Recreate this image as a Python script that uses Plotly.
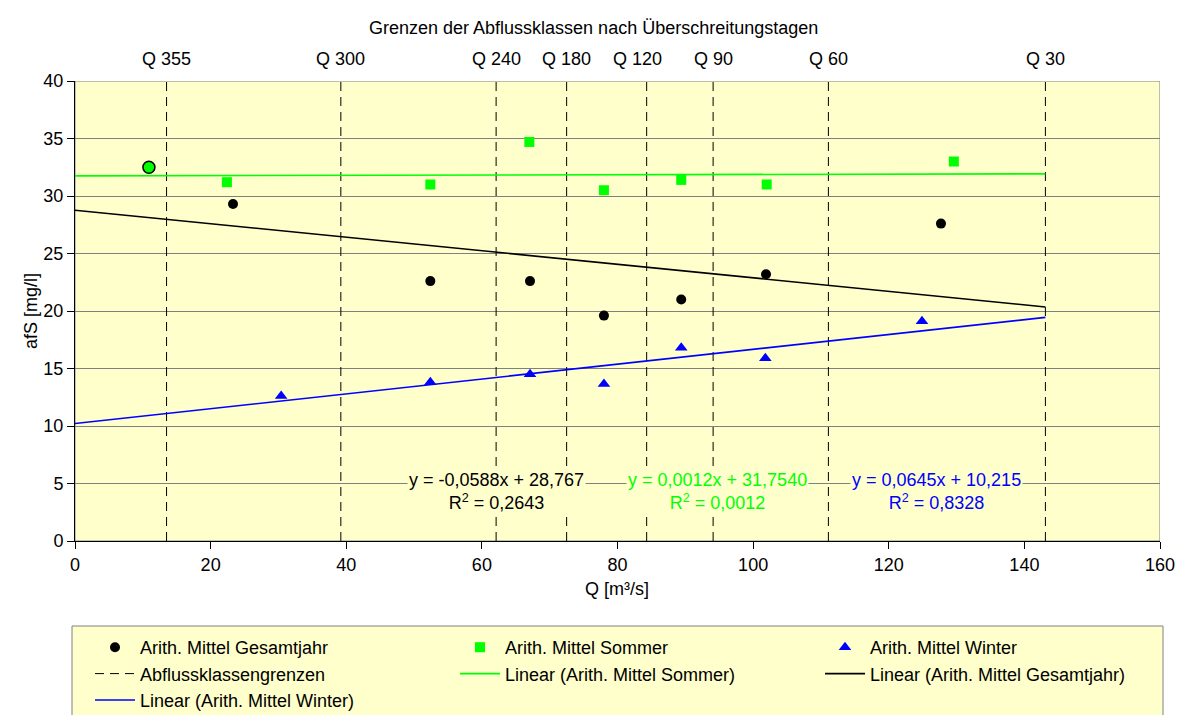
import plotly.graph_objects as go

# ---------------- data ----------------
ges_x = [10.9, 23.3, 52.4, 67.1, 78.0, 89.4, 101.9, 127.7]
ges_y = [32.5, 29.3, 22.6, 22.6, 19.6, 21.0, 23.2, 27.6]

som_x = [10.9, 22.4, 52.4, 67.0, 78.0, 89.4, 102.0, 129.6]
som_y = [32.5, 31.2, 31.0, 34.7, 30.5, 31.4, 31.0, 33.0]

win_x = [30.4, 52.4, 67.1, 78.0, 89.4, 101.8, 124.9]
win_y = [12.6, 13.8, 14.5, 13.65, 16.8, 15.9, 19.1]

grenz_x = [13.5, 39.2, 62.1, 72.5, 84.3, 94.1, 111.1, 143.1]
grenz_labels = ["Q 355", "Q 300", "Q 240", "Q 180", "Q 120", "Q 90", "Q 60", "Q 30"]
grenz_label_x = [13.5, 39.2, 62.1, 72.5, 82.9, 94.1, 111.1, 143.1]

# trend line coefficients (slope, intercept) as printed in the chart
trend_names = ["Linear (Arith. Mittel Sommer)", "Linear (Arith. Mittel Gesamtjahr)",
               "Linear (Arith. Mittel Winter)"]
trend_slope = [0.0012, -0.0588, 0.0645]
trend_icpt = [31.754, 28.767, 10.215]
trend_range = [0, 143.1]
eq_text = ["y = 0,0012x + 31,7540<br>R<sup>2</sup> = 0,0012",
           "y = -0,0588x + 28,767<br>R<sup>2</sup> = 0,2643",
           "y = 0,0645x + 10,215<br>R<sup>2</sup> = 0,8328"]
eq_x = [94.7, 62.2, 127.0]
eq_y = [4.3, 4.3, 4.3]

# ---------------- styling ----------------
W, H = 1187, 715
L, R, T, B = 75, 1160, 81, 541
FONT = "Liberation Sans, Arial, sans-serif"
FS = 18
BG = "#FFFFCC"
GREEN = "#00FF00"
BLUE = "#0000FF"
trend_colors = [GREEN, "black", BLUE]


def px(xp):
    return xp / W


def py(yp):
    return 1 - yp / H


fig = go.Figure()

fig.add_trace(go.Scatter(x=ges_x, y=ges_y, mode="markers", name="Arith. Mittel Gesamtjahr",
                         marker=dict(symbol="circle", size=10, color="black")))
fig.add_trace(go.Scatter(x=som_x[1:], y=som_y[1:], mode="markers", name="Arith. Mittel Sommer",
                         marker=dict(symbol="square", size=10, color=GREEN)))
fig.add_trace(go.Scatter(x=win_x, y=win_y, mode="markers", name="Arith. Mittel Winter",
                         marker=dict(symbol="triangle-up", size=11, color=BLUE)))

gx, gy = [], []
for v in grenz_x:
    gx += [v, v, None]
    gy += [0, 40, None]
fig.add_trace(go.Scatter(x=gx, y=gy, mode="lines", name="Abflussklassengrenzen",
                         line=dict(color="black", width=1, dash="9px,6px")))

for nm, s, c, col in zip(trend_names, trend_slope, trend_icpt, trend_colors):
    xs = list(trend_range)
    ys = [s * v + c for v in xs]
    fig.add_trace(go.Scatter(x=xs, y=ys, mode="lines", name=nm,
                             line=dict(color=col, width=1.6)))

# special first summer point (drawn as circle on top)
fig.add_trace(go.Scatter(x=som_x[:1], y=som_y[:1], mode="markers", showlegend=False,
                         marker=dict(symbol="circle", size=12, color=GREEN,
                                     line=dict(color="black", width=1.5))))

fig.update_layout(
    width=W, height=H,
    margin=dict(l=0, r=0, t=0, b=0, autoexpand=False),
    paper_bgcolor="white",
    plot_bgcolor=BG,
    font=dict(family=FONT, size=FS, color="black"),
    showlegend=True,
    legend=dict(orientation="h", x=px(90), y=py(629), xanchor="left", yanchor="top",
                entrywidth=310, entrywidthmode="pixels", bgcolor="rgba(0,0,0,0)",
                borderwidth=0, font=dict(family=FONT, size=FS, color="black"),
                itemwidth=40, tracegroupgap=0),
    xaxis=dict(domain=[px(L), px(R)], range=[0, 160], tickvals=list(range(0, 161, 20)),
               showgrid=False, zeroline=False, showline=True, linecolor="black", linewidth=1,
               ticks="outside", ticklen=7, tickcolor="black", automargin=False,
               tickfont=dict(size=FS)),
    yaxis=dict(domain=[py(B), py(T)], range=[0, 40], tickvals=list(range(0, 41, 5)),
               showgrid=True, gridcolor="#808080", gridwidth=1, zeroline=False,
               showline=True, linecolor="black", linewidth=1,
               ticks="outside", ticklen=7, tickcolor="black", automargin=False,
               tickfont=dict(size=FS)),
)

# plot border (top/right gray)
fig.add_shape(type="rect", xref="x", yref="y", x0=0, x1=160, y0=0, y1=40,
              line=dict(color="#808080", width=1), layer="below")
# legend box
fig.add_shape(type="rect", xref="paper", yref="paper", x0=px(72), x1=px(1163),
              y0=py(H + 5), y1=py(626), fillcolor=BG, line=dict(color="#808080", width=1),
              layer="below")

# equations
for t, x, y, col in zip(eq_text, eq_x, eq_y, trend_colors):
    fig.add_annotation(x=x, y=y, xref="x", yref="y", text=t, showarrow=False,
                       font=dict(color=col, size=FS), bgcolor=BG, align="center")

# top labels
for lab, x in zip(grenz_labels, grenz_label_x):
    fig.add_annotation(x=x, y=py(47), xref="x", yref="paper", text=lab, showarrow=False,
                       font=dict(size=FS))

# title
fig.add_annotation(x=px(594), y=py(16), xref="paper", yref="paper",
                   text="Grenzen der Abflussklassen nach Überschreitungstagen",
                   showarrow=False, font=dict(size=FS))
# axis titles
fig.add_annotation(x=px(617), y=py(601), xref="paper", yref="paper", text="Q [m³/s]",
                   showarrow=False, font=dict(size=FS))
fig.add_annotation(x=px(19), y=py(311), xref="paper", yref="paper", text="afS [mg/l]",
                   textangle=-90, showarrow=False, font=dict(size=FS))

fig.write_html("out.html")
